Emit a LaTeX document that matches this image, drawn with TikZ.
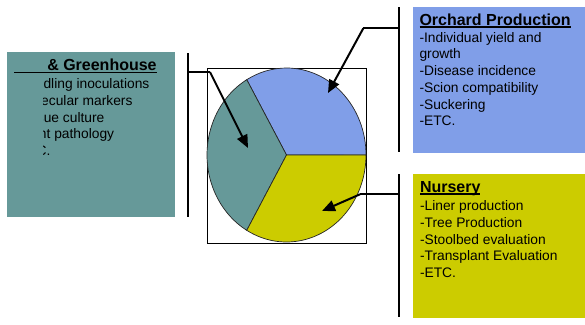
\documentclass[tikz,border=0pt]{standalone}
\usepackage{fontspec}
\setmainfont{Liberation Sans}
\usetikzlibrary{arrows.meta,calc}
\definecolor{tealbox}{RGB}{102,153,153}
\definecolor{bluebox}{RGB}{128,158,232}
\definecolor{yelbox}{RGB}{204,204,0}
\begin{document}
\begin{tikzpicture}[x=1pt,y=-1pt,
  txt/.style={inner sep=0pt, outer sep=0pt, anchor=base west},
  body/.style={txt, font=\fontsize{13.8}{16}\selectfont},
  head/.style={txt, font=\fontsize{16}{18}\selectfont\bfseries},
  panel/.style={inner sep=0pt, outer sep=0pt, anchor=north west, draw=none},
  bracket/.style={line width=2.6pt},
  pointer/.style={line width=2pt, -{Triangle[length=13pt,width=11pt]}},
  uline/.style={line width=1.3pt},
  slice/.style={draw=black!85, line width=0.7pt}]
\useasboundingbox (0,0) rectangle (585,324);

% panels
\node[panel, fill=tealbox, minimum width=168pt, minimum height=165pt] (labbox) at (7,52) {};
\node[panel, fill=bluebox, minimum width=172pt, minimum height=146pt] (orchbox) at (413,7) {};
\node[panel, fill=yelbox, minimum width=172pt, minimum height=144pt] (nurbox) at (413,174) {};

% pie frame and slices
\node[panel, draw=black, line width=0.8pt, minimum width=159pt, minimum height=175pt] (frame) at (207,68) {};
\coordinate (c) at (286.5,155);
\filldraw[slice, fill=bluebox] (c) -- ++(79.5,0) arc[start angle=0, end angle=-120, x radius=79.5, y radius=87] -- cycle;
\filldraw[slice, fill=tealbox] (c) -- ++(-39.75,-75.34) arc[start angle=-120, end angle=-240, x radius=79.5, y radius=87] -- cycle;
\filldraw[slice, fill=yelbox] (c) -- ++(-39.75,75.34) arc[start angle=-240, end angle=-360, x radius=79.5, y radius=87] -- cycle;
\coordinate (tealpt) at (248,148);
\coordinate (bluept) at (328,93);
\coordinate (yelpt) at (322,211);

% left panel text (clipped on the left)
\begin{scope}
\clip (43,0) rectangle (585,324);
\node[head] (labhead) at (14.4,70.7) {Lab \& Greenhouse};
\foreach \t [count=\i] in {-Seedling inoculations,-Molecular markers,-Tissue culture,-Plant pathology,-ETC.}
  \node[body] (lab\i) at (14.4,{88.8+16.7*(\i-1)}) {\t};
\end{scope}
\draw[uline] ([yshift=-2pt]labhead.base west) -- ([yshift=-2pt]labhead.base east);

% orchard text
\node[head] (orchhead) at (419.5,25.5) {Orchard Production};
\draw[uline] ([yshift=-1.6pt]orchhead.base west) -- ([yshift=-1.6pt]orchhead.base east);
\foreach \t [count=\i] in {-Individual yield and,growth,-Disease incidence,-Scion compatibility,-Suckering,-ETC.}
  \node[body] (orch\i) at (419.5,{42.2+16.75*(\i-1)}) {\t};

% nursery text
\node[head] (nurhead) at (420,192.5) {Nursery};
\draw[uline] ([yshift=-1.6pt]nurhead.base west) -- ([yshift=-1.6pt]nurhead.base east);
\foreach \t [count=\i] in {-Liner production,-Tree Production,-Stoolbed evaluation,-Transplant Evaluation,-ETC.}
  \node[body] (nur\i) at (420,{210.5+16.75*(\i-1)}) {\t};

% callout brackets and pointers
\coordinate (lt) at (188,53);
\coordinate (lb) at (188,217);
\coordinate (lj) at (188,72);
\coordinate (lk) at (210,72);
\draw[bracket] (lt) -- (lb);
\draw[line width=2pt] (lj) -- (lk);
\draw[pointer] (lk) -- (tealpt);

\coordinate (rt) at (399,7);
\coordinate (rb) at (399,152);
\coordinate (rj) at (399,28.3);
\coordinate (rk) at (363.3,28.3);
\draw[bracket] (rt) -- (rb);
\draw[line width=2pt] (rj) -- (rk);
\draw[pointer] (rk) -- (bluept);

\coordinate (nt) at (399,174);
\coordinate (nb) at (399,317);
\coordinate (nj) at (399,194.3);
\coordinate (nk) at (360,194.3);
\draw[bracket] (nt) -- (nb);
\draw[line width=2pt] (nj) -- (nk);
\draw[pointer] (nk) -- (yelpt);
\end{tikzpicture}
\end{document}
